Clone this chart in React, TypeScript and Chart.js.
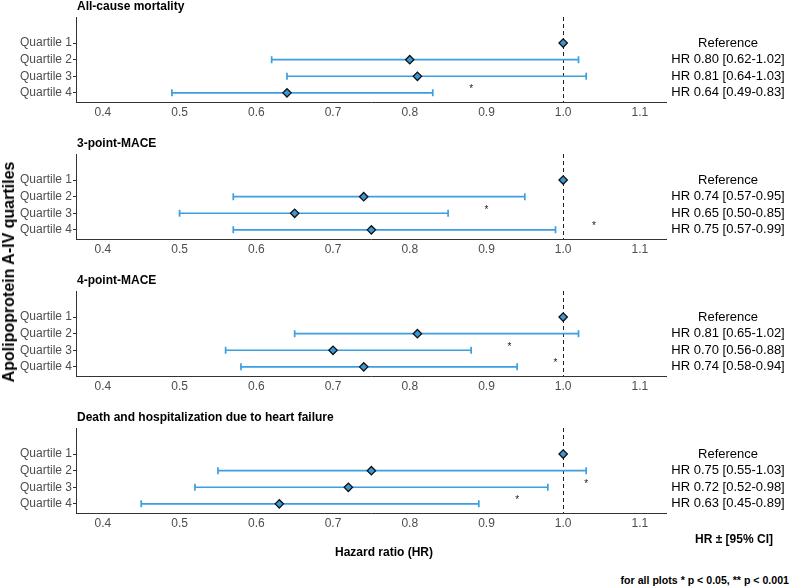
import React, { useEffect, useRef } from "react";
import { Chart, registerables } from "chart.js";

Chart.register(...registerables);

const FONT = "'Liberation Sans', Arial, sans-serif";

const panelTitles = [
  "All-cause mortality",
  "3-point-MACE",
  "4-point-MACE",
  "Death and hospitalization due to heart failure",
];
const quartileLabels = ["Quartile 1", "Quartile 2", "Quartile 3", "Quartile 4"];
const xTickValues = [0.4, 0.5, 0.6, 0.7, 0.8, 0.9, 1.0, 1.1];
const referenceValue = 1.0;

// All-cause mortality
const hrAllCause = [1.0, 0.8, 0.81, 0.64];
const loAllCause = [1.0, 0.62, 0.64, 0.49];
const hiAllCause = [1.0, 1.02, 1.03, 0.83];
const starXAllCause = [0.88];
const starRowAllCause = [4];

// 3-point-MACE
const hrMace3 = [1.0, 0.74, 0.65, 0.75];
const loMace3 = [1.0, 0.57, 0.5, 0.57];
const hiMace3 = [1.0, 0.95, 0.85, 0.99];
const starXMace3 = [0.9, 1.04];
const starRowMace3 = [3, 4];

// 4-point-MACE
const hrMace4 = [1.0, 0.81, 0.7, 0.74];
const loMace4 = [1.0, 0.65, 0.56, 0.58];
const hiMace4 = [1.0, 1.02, 0.88, 0.94];
const starXMace4 = [0.93, 0.99];
const starRowMace4 = [3, 4];

// Death and hospitalization due to heart failure
const hrHF = [1.0, 0.75, 0.72, 0.63];
const loHF = [1.0, 0.55, 0.52, 0.45];
const hiHF = [1.0, 1.03, 0.98, 0.89];
const starXHF = [1.03, 0.94];
const starRowHF = [3, 4];

const panels = [
  { title: panelTitles[0], hr: hrAllCause, lo: loAllCause, hi: hiAllCause, sx: starXAllCause, sr: starRowAllCause },
  { title: panelTitles[1], hr: hrMace3, lo: loMace3, hi: hiMace3, sx: starXMace3, sr: starRowMace3 },
  { title: panelTitles[2], hr: hrMace4, lo: loMace4, hi: hiMace4, sx: starXMace4, sr: starRowMace4 },
  { title: panelTitles[3], hr: hrHF, lo: loHF, hi: hiHF, sx: starXHF, sr: starRowHF },
];

const PANEL_H = 137;
const LINE_COLOR = "#3AA0E0";
const FILL_COLOR = "#3A98D4";

function makePlugin(p: any) {
  return {
    id: "forest",
    beforeDatasetsDraw(chart: any) {
      const { ctx, chartArea, scales } = chart;
      const x = scales.x;
      const y = scales.y;
      ctx.save();
      // reference dashed line
      ctx.strokeStyle = "#222";
      ctx.lineWidth = 1;
      ctx.setLineDash([4, 3]);
      const xr = Math.round(x.getPixelForValue(referenceValue)) + 0.5;
      ctx.beginPath();
      ctx.moveTo(xr, chartArea.top);
      ctx.lineTo(xr, chartArea.bottom);
      ctx.stroke();
      ctx.setLineDash([]);
      // error bars
      ctx.strokeStyle = LINE_COLOR;
      ctx.lineWidth = 1.7;
      p.hr.forEach((_: number, i: number) => {
        if (p.lo[i] === p.hi[i]) return;
        const yp = y.getPixelForValue(i + 1);
        const x1 = x.getPixelForValue(p.lo[i]);
        const x2 = x.getPixelForValue(p.hi[i]);
        ctx.beginPath();
        ctx.moveTo(x1, yp);
        ctx.lineTo(x2, yp);
        ctx.moveTo(x1, yp - 3.5);
        ctx.lineTo(x1, yp + 3.5);
        ctx.moveTo(x2, yp - 3.5);
        ctx.lineTo(x2, yp + 3.5);
        ctx.stroke();
      });
      // significance asterisks
      ctx.fillStyle = "#222";
      ctx.font = `10px ${FONT}`;
      ctx.textAlign = "center";
      ctx.textBaseline = "alphabetic";
      p.sx.forEach((sx: number, i: number) => {
        ctx.fillText("*", x.getPixelForValue(sx), y.getPixelForValue(p.sr[i]) - 0.5);
      });
      ctx.restore();
    },
    afterDraw(chart: any) {
      const { ctx, chartArea, scales } = chart;
      const y = scales.y;
      ctx.save();
      ctx.fillStyle = "#000";
      ctx.font = `bold 12px ${FONT}`;
      ctx.textAlign = "left";
      ctx.textBaseline = "middle";
      ctx.fillText(p.title, chartArea.left + 1, 7);
      ctx.font = `13px ${FONT}`;
      ctx.textAlign = "center";
      p.hr.forEach((v: number, i: number) => {
        const label =
          i === 0
            ? "Reference"
            : `HR ${v.toFixed(2)} [${p.lo[i].toFixed(2)}-${p.hi[i].toFixed(2)}]`;
        ctx.fillText(label, 728, y.getPixelForValue(i + 1));
      });
      ctx.restore();
    },
  };
}

function Panel({ p, index }: { p: any; index: number }) {
  const ref = useRef<HTMLCanvasElement | null>(null);
  useEffect(() => {
    if (!ref.current) return;
    const chart = new Chart(ref.current, {
      type: "scatter",
      data: {
        datasets: [
          {
            data: p.hr.map((v: number, i: number) => ({ x: v, y: i + 1 })),
            pointStyle: "rectRot",
            pointRadius: 4.2,
            pointHoverRadius: 4.2,
            backgroundColor: FILL_COLOR,
            borderColor: "#111",
            borderWidth: 1.3,
          },
        ],
      },
      options: {
        animation: false,
        responsive: false,
        maintainAspectRatio: false,
        events: [],
        layout: { padding: { left: 0, right: 134, top: 17, bottom: 0 } },
        plugins: { legend: { display: false }, tooltip: { enabled: false }, title: { display: false } },
        scales: {
          x: {
            type: "linear",
            min: 0.365,
            max: 1.134,
            afterBuildTicks: (s: any) => {
              s.ticks = xTickValues.map((v) => ({ value: v }));
            },
            afterFit: (s: any) => {
              s.height = 35;
            },
            ticks: {
              callback: (v: any) => Number(v).toFixed(1),
              color: "#4d4d4d",
              font: { family: FONT, size: 12 },
              padding: 3,
              maxRotation: 0,
              autoSkip: false,
            },
            grid: { display: true, drawOnChartArea: false, drawTicks: false, color: "#333" },
            border: { display: true, color: "#333", width: 1 },
          },
          y: {
            type: "linear",
            reverse: true,
            min: -0.57,
            max: 4.55,
            afterBuildTicks: (s: any) => {
              s.ticks = [1, 2, 3, 4].map((v) => ({ value: v }));
            },
            afterFit: (s: any) => {
              s.width = 76;
            },
            ticks: {
              callback: (v: any) => quartileLabels[Number(v) - 1],
              color: "#4d4d4d",
              font: { family: FONT, size: 12 },
              padding: 1,
              autoSkip: false,
            },
            grid: { display: true, drawOnChartArea: false, drawTicks: true, tickLength: 3, color: "#333" },
            border: { display: true, color: "#333", width: 1 },
          },
        },
      },
      plugins: [makePlugin(p)],
    } as any);
    return () => chart.destroy();
  }, [p]);
  return (
    <canvas
      ref={ref}
      width={800}
      height={PANEL_H}
      style={{ position: "absolute", left: 0, top: index * PANEL_H, width: 800, height: PANEL_H }}
    />
  );
}

export default function App() {
  return (
    <div
      style={{
        position: "absolute",
        left: 0,
        top: 0,
        width: 800,
        height: 587,
        background: "#fff",
        fontFamily: FONT,
        overflow: "hidden",
      }}
    >
      {panels.map((p, i) => (
        <Panel key={i} p={p} index={i} />
      ))}
      <div
        style={{
          position: "absolute",
          left: 9,
          top: 272,
          transform: "translate(-50%, -50%) rotate(-90deg)",
          whiteSpace: "nowrap",
          fontWeight: "bold",
          fontSize: 16,
          color: "#000",
        }}
      >
        Apolipoprotein A-IV quartiles
      </div>
      <div
        style={{
          position: "absolute",
          left: 384,
          top: 552,
          transform: "translate(-50%, -50%)",
          whiteSpace: "nowrap",
          fontWeight: "bold",
          fontSize: 12,
          color: "#000",
        }}
      >
        Hazard ratio (HR)
      </div>
      <div
        style={{
          position: "absolute",
          left: 734,
          top: 539,
          transform: "translate(-50%, -50%)",
          whiteSpace: "nowrap",
          fontWeight: "bold",
          fontSize: 12,
          color: "#000",
        }}
      >
        HR ± [95% CI]
      </div>
      <div
        style={{
          position: "absolute",
          right: 11,
          top: 580,
          transform: "translateY(-50%)",
          whiteSpace: "nowrap",
          fontWeight: "bold",
          fontSize: 10.6,
          color: "#000",
        }}
      >
        for all plots * p &lt; 0.05, ** p &lt; 0.001
      </div>
    </div>
  );
}
